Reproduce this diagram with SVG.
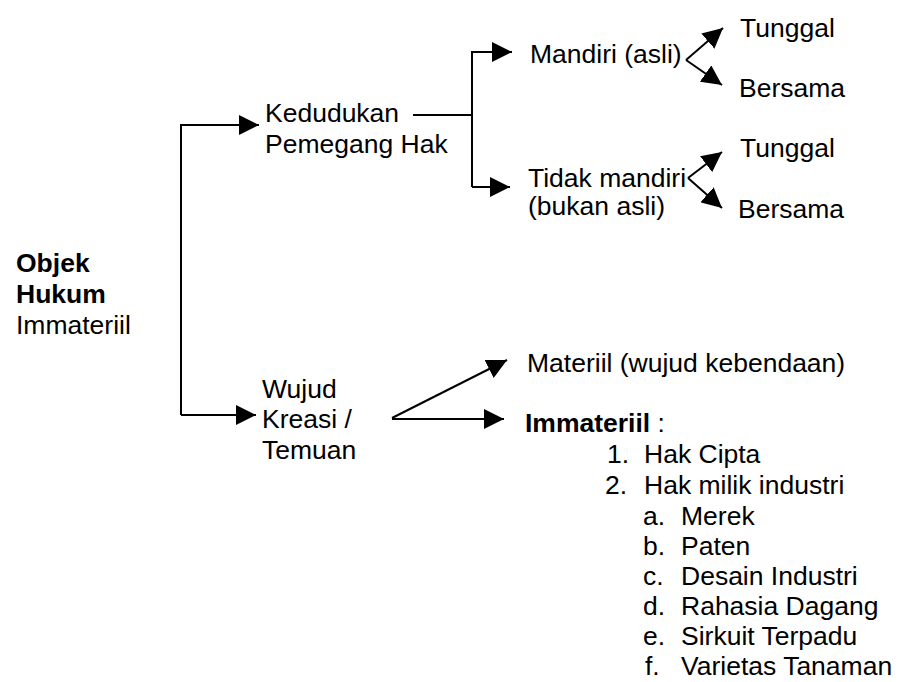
<svg xmlns="http://www.w3.org/2000/svg" width="904" height="682" viewBox="0 0 904 682">
<style>
text{font-family:"Liberation Sans",Arial,sans-serif;font-size:26.5px;fill:#000}
.b{font-weight:bold}
.c{fill:none;stroke:#000;stroke-width:2}
</style>
<defs>
<marker id="ah" markerUnits="userSpaceOnUse" markerWidth="20" markerHeight="20" refX="20" refY="10" orient="auto">
<path d="M0,0 L20,10 L0,20 z" fill="#000"/>
</marker>
</defs>
<rect width="904" height="682" fill="#fff"/>
<g id="connectors">
<path class="c" d="M181,415 V125 H259" marker-end="url(#ah)"/>
<path class="c" d="M181,415 H256" marker-end="url(#ah)"/>
<path class="c" d="M413,115 H472"/>
<path class="c" d="M472,187 V52 H512" marker-end="url(#ah)"/>
<path class="c" d="M472,187 H510" marker-end="url(#ah)"/>
<path class="c" d="M686,60 L723,28" marker-end="url(#ah)"/>
<path class="c" d="M686,60 L722,85" marker-end="url(#ah)"/>
<path class="c" d="M688,178 L722,152" marker-end="url(#ah)"/>
<path class="c" d="M688,178 L722,208" marker-end="url(#ah)"/>
<path class="c" d="M392,418 L507,360" marker-end="url(#ah)"/>
<path class="c" d="M392,419 H504" marker-end="url(#ah)"/>
</g>
<g id="objek">
<text class="b" x="16" y="272">Objek</text>
<text class="b" x="16" y="303">Hukum</text>
<text x="16" y="334">Immateriil</text>
</g>
<g id="kedudukan">
<text x="265" y="122">Kedudukan</text>
<text x="265" y="153">Pemegang Hak</text>
</g>
<g id="mandiri">
<text x="530" y="63">Mandiri (asli)</text>
</g>
<g id="tunggal1"><text x="740" y="37">Tunggal</text></g>
<g id="bersama1"><text x="739" y="97">Bersama</text></g>
<g id="tidakmandiri">
<text x="528" y="187">Tidak mandiri</text>
<text x="528" y="215">(bukan asli)</text>
</g>
<g id="tunggal2"><text x="740" y="157">Tunggal</text></g>
<g id="bersama2"><text x="738" y="218">Bersama</text></g>
<g id="wujud">
<text x="262" y="398">Wujud</text>
<text x="262" y="428">Kreasi /</text>
<text x="262" y="459">Temuan</text>
</g>
<g id="materiil"><text x="527" y="372">Materiil (wujud kebendaan)</text></g>
<g id="immateriil">
<text x="525" y="432"><tspan class="b">Immateriil</tspan> :</text>
<text x="607" y="463">1.</text><text x="644" y="463">Hak Cipta</text>
<text x="605" y="494">2.</text><text x="644" y="494">Hak milik industri</text>
<text x="643" y="525">a.</text><text x="681" y="525">Merek</text>
<text x="643" y="555">b.</text><text x="681" y="555">Paten</text>
<text x="643" y="585">c.</text><text x="681" y="585">Desain Industri</text>
<text x="643" y="615">d.</text><text x="681" y="615">Rahasia Dagang</text>
<text x="643" y="645">e.</text><text x="681" y="645">Sirkuit Terpadu</text>
<text x="645" y="675">f.</text><text x="681" y="675">Varietas Tanaman</text>
</g>
</svg>
